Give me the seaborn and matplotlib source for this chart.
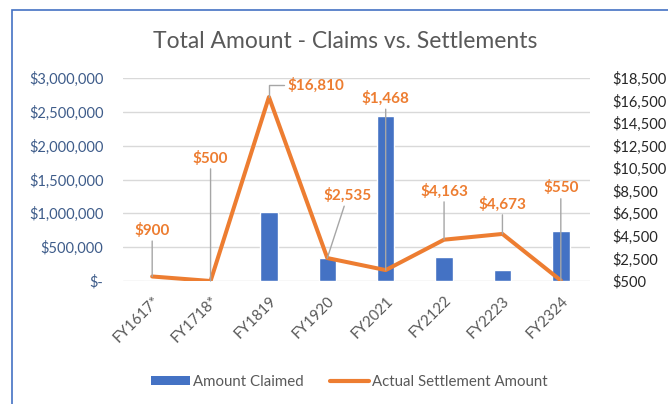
import numpy as np
import matplotlib
matplotlib.use("Agg")
import matplotlib.pyplot as plt
from matplotlib.patches import Patch, Rectangle
from matplotlib.lines import Line2D
from matplotlib.ticker import FuncFormatter
import seaborn as sns

# Data
fiscal_years = ["FY1617*", "FY1718*", "FY1819", "FY1920", "FY2021", "FY2122", "FY2223", "FY2324"]
amount_claimed = [0, 0, 1025000, 345000, 2440000, 360000, 162000, 740000]
settlement = [900, 500, 16810, 2535, 1468, 4163, 4673, 550]

# where the orange data labels sit (x index, right-axis value)
label_x = [0, 1, 2.8, 3.35, 4, 5, 6, 7]
label_y = [5000, 11400, 17900, 8100, 16700, 8480, 7330, 8750]

blue = "#4472C4"
orange = "#ED7D31"
grid_gray = "#D9D9D9"
text_gray = "#595959"

sns.set_theme(style="white")
plt.rcParams["font.family"] = ["Lato", "DejaVu Sans"]

fig = plt.figure(figsize=(6.68, 4.04), dpi=100)
ax = fig.add_axes([123 / 668, 1 - 281 / 404, (590 - 123) / 668, (281 - 78) / 404])

# bars on the left axis
sns.barplot(x=fiscal_years, y=amount_claimed, ax=ax, color=blue, width=0.3,
            saturation=1, zorder=2)
ax.set_ylim(0, 3000000)
ax.set_yticks(np.arange(0, 3000001, 500000))
ax.yaxis.set_major_formatter(FuncFormatter(lambda v, p: "$-" if v == 0 else f"${v:,.0f}"))
ax.set_xlim(-0.5, len(fiscal_years) - 0.5)
ax.grid(axis="y", color=grid_gray, lw=1, zorder=0)
ax.set_axisbelow(True)
ax.set_xlabel("")
ax.set_ylabel("")
for s in ax.spines.values():
    s.set_visible(False)
ax.tick_params(axis="y", length=0, pad=14, labelsize=10.5, labelcolor="#3E5C8A")
ax.tick_params(axis="x", length=0, pad=9, labelsize=10.8, labelcolor=text_gray)
for t in ax.get_xticklabels():
    t.set_rotation(45)
    t.set_ha("right")
    t.set_rotation_mode("anchor")

# line on the right axis
ax2 = ax.twinx()
sns.lineplot(x=np.arange(len(fiscal_years)), y=settlement, ax=ax2, color=orange,
             lw=2.9, zorder=3)
ax2.set_ylim(500, 18500)
ax2.set_yticks(np.arange(500, 18501, 2000))
ax2.yaxis.set_major_formatter(FuncFormatter(lambda v, p: f"${v:,.0f}"))
ax2.tick_params(axis="y", length=0, pad=16, labelsize=10.5, labelcolor="#262626")
ax2.set_ylabel("")
ax2.grid(False)
for s in ax2.spines.values():
    s.set_visible(False)

# data labels with leader lines
for i, v in enumerate(settlement):
    if i == 2:
        arrow = dict(arrowstyle="-", color="#A6A6A6", lw=1, shrinkA=0, shrinkB=0,
                     relpos=(0, 0.5), connectionstyle="angle,angleA=0,angleB=90,rad=0")
    else:
        arrow = dict(arrowstyle="-", color="#A6A6A6", lw=1, shrinkA=0, shrinkB=0)
    ax2.annotate(f"${v:,}", xy=(i, v), xytext=(label_x[i], label_y[i]),
                 textcoords="data", ha="center", va="center", fontsize=11,
                 fontweight="bold", color=orange, arrowprops=arrow, zorder=4)

fig.text(0.517, 1 - 42 / 404, "Total Amount - Claims vs. Settlements", ha="center",
         va="center", fontsize=16.5, color=text_gray)

handles = [Patch(facecolor=blue, edgecolor="none"),
           Line2D([0], [0], color=orange, lw=3)]
fig.legend(handles, ["Amount Claimed", "Actual Settlement Amount"], loc="center",
           bbox_to_anchor=(0.523, 1 - 382 / 404), ncol=2, frameon=False,
           fontsize=10.8, labelcolor=text_gray, handlelength=2.6, handleheight=0.6,
           handletextpad=0.2, columnspacing=1.8)

# chart border (blue, partly outside the crop)
fig.patches.append(Rectangle((12 / 668, -0.1), 2, 1.1 - 10 / 404, transform=fig.transFigure,
                             fill=False, edgecolor=blue, lw=1.2))

fig.savefig("out.png", dpi=100)
